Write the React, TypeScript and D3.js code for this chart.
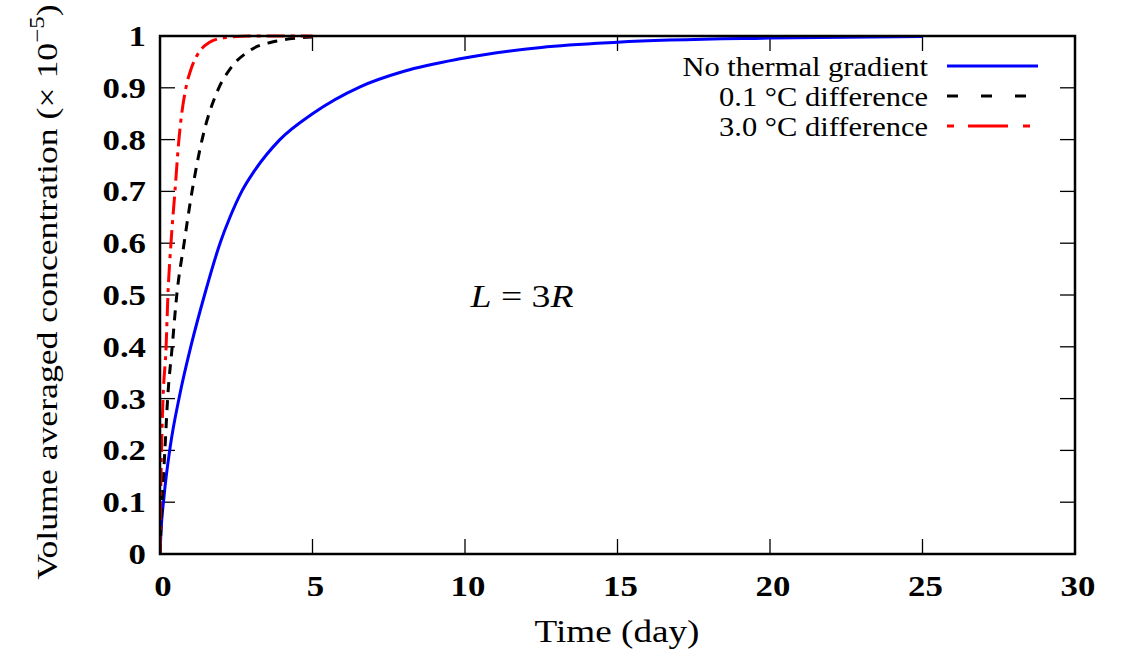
import React from "react";
import * as d3 from "d3";

// ---- data ----
const blueT = [0, 0.03, 0.13, 0.33, 0.64, 1.03, 1.46, 1.98, 2.3, 2.68, 3.1, 3.93, 5, 6.56, 8, 9.84, 12.5, 15, 20, 25];
const blueV = [0, 0.04, 0.11, 0.205, 0.305, 0.405, 0.5, 0.602, 0.651, 0.7, 0.74, 0.8, 0.85, 0.902, 0.932, 0.956, 0.978, 0.988, 0.996, 0.999];

const blackT = [0, 0.03, 0.07, 0.16, 0.25, 0.4, 0.55, 0.79, 1.05, 1.38, 1.9, 2.33, 2.92, 3.8, 4.5, 5];
const blackV = [0, 0.05, 0.1, 0.2, 0.3, 0.4, 0.5, 0.6, 0.7, 0.8, 0.896, 0.939, 0.971, 0.99, 0.996, 0.998];

const redT = [0, 0.02, 0.05, 0.1, 0.2, 0.26, 0.36, 0.49, 0.62, 0.85, 1.0, 1.2, 1.6, 2.1, 3, 5];
const redV = [0, 0.1, 0.2, 0.3, 0.4, 0.5, 0.6, 0.7, 0.8, 0.9, 0.933, 0.961, 0.987, 0.9966, 1.0, 1.0];

const seriesNames = ["No thermal gradient", "0.1 °C difference", "3.0 °C difference"];
const xTicks = [0, 5, 10, 15, 20, 25, 30];
const yTicks = [0, 0.1, 0.2, 0.3, 0.4, 0.5, 0.6, 0.7, 0.8, 0.9, 1];
const yTickLabels = ["0", "0.1", "0.2", "0.3", "0.4", "0.5", "0.6", "0.7", "0.8", "0.9", "1"];
const xTickLabels = ["0", "5", "10", "15", "20", "25", "30"];

// ---- layout ----
const W = 1122, H = 651;
const L = 160, R = 1075, T = 36, B = 554;
const SX = 1.16;
const FONT = "'Liberation Serif', 'Times New Roman', Times, serif";

export default function App() {
  const x = d3.scaleLinear().domain([0, 30]).range([L, R]);
  const y = d3.scaleLinear().domain([0, 1]).range([B, T]);
  const line = d3
    .line<[number, number]>()
    .x((d) => x(d[0]))
    .y((d) => y(d[1]))
    .curve(d3.curveMonotoneX);

  const blue = blueT.map((t, i) => [t, blueV[i]] as [number, number]);
  const black = blackT.map((t, i) => [t, blackV[i]] as [number, number]);
  const red = redT.map((t, i) => [t, redV[i]] as [number, number]);

  const tickLen = 15;
  const legendX1 = 947, legendX2 = 1038;
  const legendY = [66, 96, 126];

  const st = (tx: number, ty: number, s: number = SX) => `translate(${tx},${ty}) scale(${s},1)`;

  return (
    <svg
      width={W}
      height={H}
      style={{ position: "absolute", left: 0, top: 0, background: "#fff" }}
      fontFamily={FONT}
    >
      <defs>
        <clipPath id="plot">
          <rect x={L} y={T - 2} width={R - L} height={B - T + 2} />
        </clipPath>
      </defs>
      <rect x={0} y={0} width={W} height={H} fill="#fff" />

      {/* ticks */}
      <g stroke="#000" strokeWidth={1.3}>
        {xTicks.map((t) => (
          <g key={"xt" + t}>
            <line x1={x(t)} x2={x(t)} y1={B} y2={B - tickLen} />
            <line x1={x(t)} x2={x(t)} y1={T} y2={T + tickLen} />
          </g>
        ))}
        {yTicks.map((t) => (
          <g key={"yt" + t}>
            <line x1={L} x2={L + tickLen} y1={y(t)} y2={y(t)} />
            <line x1={R} x2={R - tickLen} y1={y(t)} y2={y(t)} />
          </g>
        ))}
      </g>

      {/* curves */}
      <g clipPath="url(#plot)" fill="none" strokeWidth={3} strokeLinejoin="round">
        <path d={line(blue) || ""} stroke="#0000ff" />
        <path d={line(black) || ""} stroke="#000" strokeDasharray="10,8" />
        <path d={line(red) || ""} stroke="#ff0000" strokeDasharray="18,6,4,6" />
      </g>

      {/* border */}
      <rect x={L} y={T} width={R - L} height={B - T} fill="none" stroke="#000" strokeWidth={2.5} />

      {/* tick labels */}
      <g fontWeight="bold" fontSize={30} fill="#000">
        {yTicks.map((t, i) => (
          <text key={"yl" + t} transform={st(146, y(t) + 10)} textAnchor="end">
            {yTickLabels[i]}
          </text>
        ))}
        {xTicks.map((t, i) => (
          <text key={"xl" + t} transform={st(x(t) + 3, 596)} textAnchor="middle">
            {xTickLabels[i]}
          </text>
        ))}
      </g>

      {/* axis titles */}
      <text transform={st(617, 642, 1.2)} textAnchor="middle" fontSize={31} fill="#000">
        Time (day)
      </text>
      <text
        transform={`translate(57,292) rotate(-90) scale(1.19,1)`}
        textAnchor="middle"
        fontSize={30}
        fill="#000"
      >
        Volume averaged concentration (× 10
        <tspan fontSize={21} dy={-13}>−5</tspan>
        <tspan dy={13}>)</tspan>
      </text>

      {/* annotation */}
      <text transform={st(522, 307, 1.18)} textAnchor="middle" fontSize={32} fill="#000">
        <tspan fontStyle="italic">L</tspan> = 3<tspan fontStyle="italic">R</tspan>
      </text>

      {/* legend */}
      <g fontSize={28} fill="#000">
        {seriesNames.map((n, i) => (
          <text key={n} transform={st(928, legendY[i] + 10, 1.09)} textAnchor="end">
            {n}
          </text>
        ))}
      </g>
      <g fill="none" strokeWidth={3}>
        <line x1={legendX1} x2={legendX2} y1={legendY[0]} y2={legendY[0]} stroke="#0000ff" />
        <line x1={legendX1} x2={legendX2 - 2} y1={legendY[1]} y2={legendY[1]} stroke="#000" strokeDasharray="11,23" />
        <line x1={legendX1} x2={legendX2} y1={legendY[2]} y2={legendY[2]} stroke="#ff0000" strokeDasharray="7,14,40,15,7,100" />
      </g>
    </svg>
  );
}
